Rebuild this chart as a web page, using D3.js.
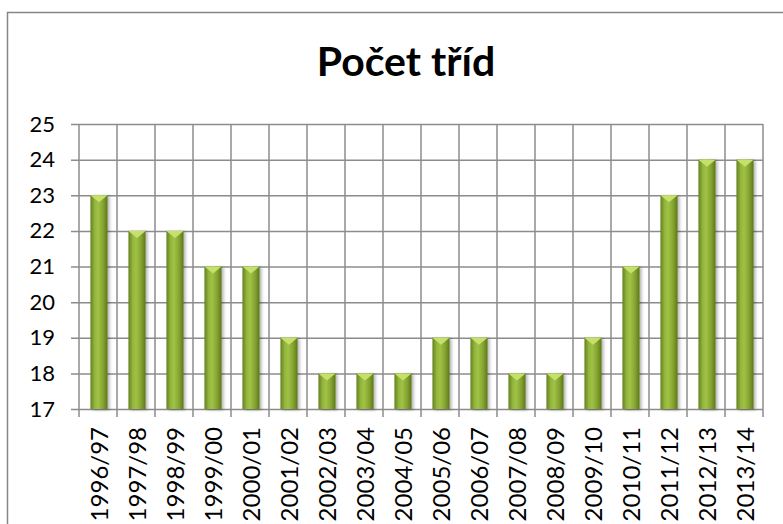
<!DOCTYPE html>
<html>
<head>
<meta charset="utf-8">
<script src="https://cdn.jsdelivr.net/npm/d3@7"></script>
<style>
  body { margin: 0; background: #ffffff; }
  svg { display: block; }
</style>
</head>
<body>
<div class="chart"></div>
<script>
// Počet tříd podle školního roku
const years = ["1996/97", "1997/98", "1998/99", "1999/00", "2000/01", "2001/02",
               "2002/03", "2003/04", "2004/05", "2005/06", "2006/07", "2007/08",
               "2008/09", "2009/10", "2010/11", "2011/12", "2012/13", "2013/14"];
const classes = [23, 22, 22, 21, 21, 19, 18, 18, 18, 19, 19, 18, 18, 19, 21, 23, 24, 24];
const yTicks = [17, 18, 19, 20, 21, 22, 23, 24, 25];

const width = 783;
const height = 524;
const plotLeft = 79, plotRight = 763, plotTop = 124, plotBottom = 409;

const svg = d3.select(".chart")
              .append("svg")
              .attr("width", width)
              .attr("height", height);

const defs = svg.append("defs");

// cylinder look of the columns
const grad = defs.append("linearGradient")
                 .attr("id", "barGrad")
                 .attr("x1", "0%").attr("x2", "100%")
                 .attr("y1", "0%").attr("y2", "0%");
grad.append("stop").attr("offset", "0%").attr("stop-color", "#63801f");
grad.append("stop").attr("offset", "25%").attr("stop-color", "#93b63c");
grad.append("stop").attr("offset", "45%").attr("stop-color", "#a0c247");
grad.append("stop").attr("offset", "75%").attr("stop-color", "#84a22f");
grad.append("stop").attr("offset", "100%").attr("stop-color", "#5b771a");

const shadow = defs.append("filter")
                   .attr("id", "shadow")
                   .attr("x", "-50%").attr("y", "-10%")
                   .attr("width", "200%").attr("height", "120%");
shadow.append("feDropShadow")
      .attr("dx", 2).attr("dy", 1)
      .attr("stdDeviation", 1.6)
      .attr("flood-color", "#000")
      .attr("flood-opacity", 0.3);

// outer chart border
svg.append("path")
   .attr("d", "M7.5," + height + "V12.5H" + width)
   .attr("fill", "none")
   .attr("stroke", "#868686")
   .attr("stroke-width", 1.5);

// title
svg.append("text")
   .attr("x", 406)
   .attr("y", 76)
   .attr("text-anchor", "middle")
   .style("font-family", "Lato, 'Open Sans', sans-serif")
   .style("font-weight", "bold")
   .style("font-size", "41px")
   .text("Počet tříd");

// scales
const xScale = d3.scaleBand()
                 .domain(years)
                 .range([plotLeft, plotRight]);
const yScale = d3.scaleLinear()
                 .domain([17, 25])
                 .range([plotBottom, plotTop]);

// horizontal gridlines + ticks
const yAxis = d3.axisLeft(yScale)
                .tickValues(yTicks)
                .tickSize(-(plotRight - plotLeft))
                .tickSizeOuter(0)
                .tickPadding(24)
                .tickFormat(d3.format("d"));

const gy = svg.append("g")
              .attr("transform", "translate(" + plotLeft + ",0)")
              .call(yAxis);
gy.select(".domain").remove();
gy.selectAll(".tick line")
  .attr("x1", -8)
  .attr("stroke", "#8c8c8c")
  .attr("stroke-width", 1.5);
gy.selectAll(".tick text")
  .style("font-family", "Lato, 'Open Sans', sans-serif")
  .style("font-size", "22px")
  .attr("fill", "#000");

// vertical gridlines on category boundaries
const bounds = years.map(d => xScale(d)).concat([xScale.range()[1]]);
svg.append("g")
   .selectAll("line")
   .data(bounds)
   .join("line")
   .attr("x1", d => d).attr("x2", d => d)
   .attr("y1", plotTop).attr("y2", plotBottom + 8)
   .attr("stroke", "#8c8c8c")
   .attr("stroke-width", 1.5);

// columns
const barW = xScale.bandwidth() * 0.45;
const bars = svg.append("g")
                .selectAll("g")
                .data(years.map((d, i) => ({ year: d, value: classes[i] })))
                .join("g")
                .attr("filter", "url(#shadow)");

bars.append("rect")
    .attr("x", d => xScale(d.year) + (xScale.bandwidth() - barW) / 2 + 1)
    .attr("y", d => yScale(d.value))
    .attr("width", barW)
    .attr("height", d => yScale(17) - yScale(d.value))
    .attr("fill", "url(#barGrad)");

// light bevel on top of each column
bars.append("path")
    .attr("d", d => {
      const x0 = xScale(d.year) + (xScale.bandwidth() - barW) / 2 + 1;
      const y0 = yScale(d.value);
      return "M" + x0 + "," + y0 + "H" + (x0 + barW) +
             "L" + (x0 + barW * 0.5) + "," + (y0 + 7) + "Z";
    })
    .attr("fill", "#c6e06c");

// category labels, rotated
svg.append("g")
   .selectAll("text")
   .data(years)
   .join("text")
   .attr("transform", d => "translate(" + (xScale(d) + xScale.bandwidth() / 2 + 1) + ",427) rotate(-90)")
   .attr("text-anchor", "end")
   .attr("dy", "0.36em")
   .style("font-family", "Lato, 'Open Sans', sans-serif")
   .style("font-size", "24px")
   .text(d => d);
</script>
</body>
</html>
